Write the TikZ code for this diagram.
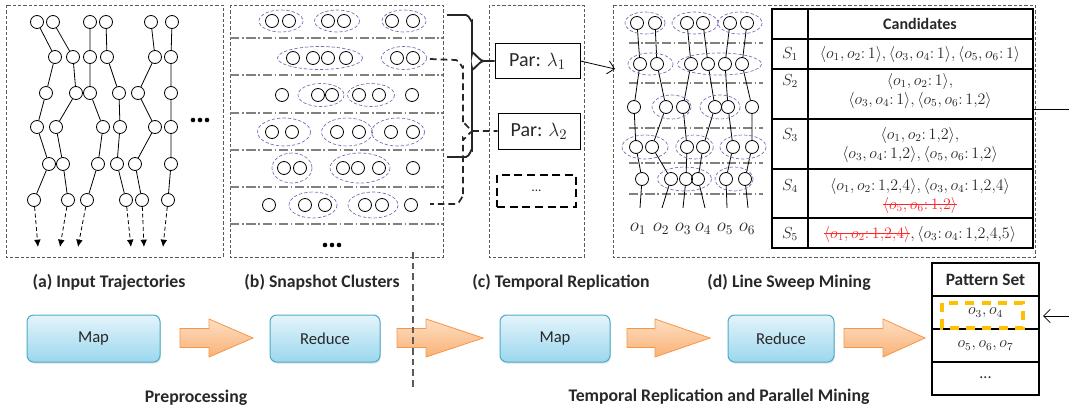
\documentclass[tikz,border=0pt]{standalone}
\usepackage{fontspec}
\setmainfont{Carlito}
\usetikzlibrary{arrows.meta,shadows}

\definecolor{clustc}{RGB}{128,100,178}
\definecolor{panelc}{RGB}{90,90,90}
\definecolor{txtc}{RGB}{40,40,40}
\definecolor{mapdraw}{RGB}{75,172,198}
\definecolor{maptop}{RGB}{228,244,251}
\definecolor{mapbot}{RGB}{155,215,238}
\definecolor{arrdraw}{RGB}{247,150,70}
\definecolor{arrtop}{RGB}{253,222,195}
\definecolor{arrbot}{RGB}{249,178,118}
\definecolor{goldc}{RGB}{255,192,0}
\definecolor{strikec}{RGB}{255,40,40}

\newsavebox{\strkbox}
\newcommand{\mystrike}[1]{\sbox{\strkbox}{#1}\rlap{\raisebox{0.28em}{\rule{\wd\strkbox}{0.5pt}}}\usebox{\strkbox}}

\tikzset{every picture/.style={line width=0.75pt}}
\tikzset{
  obj/.style={circle, draw, inner sep=0pt, minimum size=9.75pt, line width=0.6pt},
  traj/.style={line width=0.6pt},
  futr/.style={line width=0.6pt, dash pattern=on 3pt off 2pt, -{Latex[length=5.5pt,width=5pt]}},
  clust/.style={draw=clustc, line width=0.5pt, dash pattern=on 2.5pt off 1.5pt},
  panel/.style={draw=panelc, line width=0.6pt, dash pattern=on 2.5pt off 1.5pt},
  sepline/.style={draw=gray, line width=0.8pt, dash pattern=on 7pt off 2pt on 1.2pt off 2pt},
  brace/.style={line width=1.4pt, draw=black!85},
  dbrace/.style={line width=1.3pt, draw=black!85, dash pattern=on 5pt off 3pt},
  parbox/.style={draw, line width=0.75pt, font=\fontsize{15}{17}\selectfont, text=txtc},
  lbl/.style={font=\fontsize{13.3}{15}\selectfont\bfseries, text=txtc},
  cand/.style={font=\fontsize{12}{14.2}\selectfont, text=txtc, align=center, inner sep=1pt},
  olbl/.style={font=\fontsize{14}{16}\selectfont, text=txtc},
  tbl/.style={line width=1.1pt},
  mrbox/.style={draw=mapdraw, rounded corners=5pt, top color=maptop, bottom color=mapbot,
    minimum height=35.25pt, font=\fontsize{12.5}{14}\selectfont, text=txtc,
    drop shadow={shadow xshift=0.6pt, shadow yshift=-1.2pt, opacity=0.25}},
  pics/blkarrow/.style n args={2}{code={
    \shade[draw=arrdraw, line width=0.6pt, top color=arrtop, bottom color=arrbot]
      (0,-9.5) -- (#1-#2,-9.5) -- (#1-#2,-19) -- (#1,0) -- (#1-#2,19) -- (#1-#2,9.5) -- (0,9.5) -- cycle;
  }}
}

\begin{document}
\begin{tikzpicture}[x=0.75pt,y=0.75pt,yscale=-1,xscale=1]
\useasboundingbox (0,0) rectangle (1069,414);

%Panels
\draw[panel] (6,5) rectangle (223,257);
\draw[panel] (230,5) rectangle (443,257);
\draw[panel] (489,5) rectangle (584,257);
\draw[panel] (613,5) rectangle (1035,257);

%(a) input trajectories
\foreach \t/\xa/\xb/\xc/\xd/\xe/\xf/\xg in {1/37/55/46/37/49/34/38, 2/53/73/76/56/63/68/60, 3/90/90/90/103/98/87/78, 4/106/107/119/120/117/126/131, 5/151/155/138/155/135/142/144, 6/172/171/171/171/171/168/163}{
  \node[obj] (a\t-1) at (\xa,22) {};
  \node[obj] (a\t-2) at (\xb,57) {};
  \node[obj] (a\t-3) at (\xc,93) {};
  \node[obj] (a\t-4) at (\xd,127) {};
  \node[obj] (a\t-5) at (\xe,164) {};
  \node[obj] (a\t-6) at (\xf,200) {};
  \coordinate (a\t-7) at (\xg,247);
  \draw[traj] (a\t-1) -- (a\t-2) -- (a\t-3) -- (a\t-4) -- (a\t-5) -- (a\t-6);
  \draw[futr] (a\t-6) -- (a\t-7);
}
\foreach \d in {-7,0,7} \fill (200+\d,120) circle [radius=2.3];

%(b) snapshot clusters
\foreach \yy in {38,75,113,150,187,224} \draw[sepline] (230,\yy) -- (443,\yy);
\foreach \r/\yy/\xs in {1/21/{272,289,328,344,392,413}, 2/58/{293,313,328,346,397,413}, 3/95/{282,318,332,359,379,412}, 4/132/{272,292,337,359,391,413}, 5/168/{284,300,343,358,379,413}, 6/205/{269,305,325,365,382,411}}{
  \foreach \x [count=\i] in \xs {\node[obj] (b\r-\i) at (\x,\yy) {};}
}
\foreach \cx/\cy/\rx/\ry in {281/21/22/11, 337/21/22.5/11, 404/21/22/11, 320/58/42.5/11.5, 404/58/22.5/11.5, 321/95/23/11.5, 371/95/23.5/11.5, 284/132/26.5/14, 347/132/25.5/14, 398/132/26.5/14, 292/168/20/15, 360/168/30/15, 313/205/24/13, 373/205/25/13}
  \draw[clust] (\cx,\cy) ellipse [x radius=\rx, y radius=\ry];
\foreach \d in {-7,0,7} \fill (332+\d,245) circle [radius=2.3];

%(c) temporal replication
\node[parbox, minimum width=63.75pt, minimum height=26.25pt] (par1) at (537.5,61) {Par: $\lambda_1$};
\node[parbox, minimum width=61.5pt, minimum height=27pt] (par2) at (539,131) {Par: $\lambda_2$};
\node[draw, line width=1pt, dash pattern=on 6pt off 3.5pt, minimum width=59.25pt, minimum height=24pt, text=txtc] (par3) at (536.5,191) {...};

%Braces
\coordinate (br1-a) at (447,15);
\coordinate (br1-b) at (447,157);
\draw[brace] (br1-a) -- (466,15) to[out=0,in=90] (472,21) -- (472,54) to[out=-90,in=180] (484,61) -- (par1.west);
\draw[brace] (484,61) to[out=180,in=90] (472,68) -- (472,150) to[out=-90,in=0] (466,157) -- (br1-b);
\coordinate (br2-a) at (430,59);
\coordinate (br2-b) at (430,204);
\draw[dbrace] (br2-a) -- (456,60) to[out=0,in=90] (463,67) -- (463,124) to[out=-90,in=180] (474,131) -- (par2.west);
\draw[dbrace] (474,131) to[out=180,in=90] (463,138) -- (463,197) to[out=-90,in=0] (456,204) -- (br2-b);

%(d) line sweep mining
\coordinate (d-in) at (615,69);
\draw[line width=0.6pt, -{Straight Barb[length=5pt]}] (par1.east) -- (d-in);
\foreach \yy in {43,83,128,163,194} \draw[sepline] (629,\yy) -- (763,\yy);
\foreach \t/\xa/\xb/\xc/\xd/\xe/\xf/\xl in {1/637/640/634/636/642/640/638, 2/655/657/666/652/671/662/661, 3/687/691/683/687/686/683/683, 4/703/708/715/703/698/705/703, 5/730/725/728/733/726/727/725, 6/747/742/752/752/745/748/747}{
  \node[obj] (d\t-1) at (\xa,23) {};
  \node[obj] (d\t-2) at (\xb,64) {};
  \node[obj] (d\t-3) at (\xc,107) {};
  \node[obj] (d\t-4) at (\xd,147) {};
  \node[obj] (d\t-5) at (\xe,179) {};
  \coordinate (d\t-6) at (\xf,208);
  \draw[traj] (d\t-1) -- (d\t-2) -- (d\t-3) -- (d\t-4) -- (d\t-5) -- (d\t-6);
  \node[olbl] (o\t) at (\xl,229) {$o_{\t}$};
}
\foreach \cx/\cy/\rx/\ry in {645/23/20/11, 695/23/23/11, 740/23/22/11, 650.5/64/22.5/11, 719.5/64/42/11, 671.5/107/19.5/12, 720/107/20/12, 645/147/23/12, 694.5/147/18.7/12, 743/147/23/12, 684.5/179/27/12, 734/179/19/12}
  \draw[clust] (\cx,\cy) ellipse [x radius=\rx, y radius=\ry];

%Candidates table
\draw[tbl] (772,9) rectangle (1033,248);
\foreach \yy in {39,69,119,169,218} \draw[tbl] (772,\yy) -- (1033,\yy);
\draw[tbl] (808,9) -- (808,248);
% Text Node
\node[font=\fontsize{12}{14}\selectfont\bfseries, text=txtc] (cnd) at (920,24) {Candidates};
\foreach \i/\yy in {1/54,2/81,3/135,4/186,5/234} \node[cand] (s\i) at (790,\yy) {$S_{\i}$};
\node[cand] (c1) at (920,54) {$\langle o_1,o_2{:}\,1\rangle,\langle o_3,o_4{:}\,1\rangle,\langle o_5,o_6{:}\,1\rangle$};
\node[cand] (c2) at (920,91) {$\langle o_1,o_2{:}\,1\rangle,$\\$\langle o_3,o_4{:}\,1\rangle,\langle o_5,o_6{:}\,1{,}2\rangle$};
\node[cand] (c3) at (920,145) {$\langle o_1,o_2{:}\,1{,}2\rangle,$\\$\langle o_3,o_4{:}\,1{,}2\rangle,\langle o_5,o_6{:}\,1{,}2\rangle$};
\node[cand] (c4) at (920,196) {$\langle o_1,o_2{:}\,1{,}2{,}4\rangle,\langle o_3,o_4{:}\,1{,}2{,}4\rangle$\\\textcolor{strikec}{\mystrike{$\langle o_5,o_6{:}\,1{,}2\rangle$}}};
\node[cand] (c5) at (920,234) {\textcolor{strikec}{\mystrike{$\langle o_1,o_2{:}\,1{,}2{,}4\rangle$}}$,\langle o_3{:}\,o_4{:}\,1{,}2{,}4{,}5\rangle$};

\coordinate (tbl-r) at (1033,109);
\coordinate (tbl-out) at (1069,109);
\draw[line width=0.6pt] (tbl-r) -- (tbl-out);

%Labels
\node[lbl] (la) at (109,282) {(a) Input Trajectories};
\node[lbl] (lb) at (322,282) {(b) Snapshot Clusters};
\node[lbl] (lc) at (561,282) {(c) Temporal Replication};
\node[lbl] (ld) at (789,282) {(d) Line Sweep Mining};

%MapReduce flow
\node[mrbox, minimum width=99.75pt] (map1) at (93.5,338.5) {Map};
\node[mrbox, minimum width=82.5pt] (red1) at (325,338.5) {Reduce};
\node[mrbox, minimum width=82.5pt] (map2) at (555,338.5) {Map};
\node[mrbox, minimum width=79.5pt] (red2) at (781,338.5) {Reduce};
\pic at (180,338) {blkarrow={73}{44}};
\pic at (397,338) {blkarrow={86}{57}};
\pic at (627,338) {blkarrow={83}{55}};
\pic at (844,338) {blkarrow={81}{42}};

\draw[draw=panelc, line width=0.8pt, dash pattern=on 5pt off 3pt] (413,252) -- (413,388);
\node[lbl] (pre) at (196,398) {Preprocessing};
\node[lbl] (trpm) at (719,397) {Temporal Replication and Parallel Mining};

%Pattern set
\draw[tbl] (932,263) rectangle (1039,395);
\foreach \yy in {296,329,362} \draw[tbl] (932,\yy) -- (1039,\yy);
\node[font=\fontsize{13}{15}\selectfont\bfseries, text=txtc] (pst) at (985.5,279.5) {Pattern Set};
\node[cand] (p1) at (985.5,313) {$o_3,o_4$};
\node[cand] (p2) at (985.5,346) {$o_5,o_6,o_7$};
\node[cand] (p3) at (985.5,378) {...};
\draw[draw=goldc, line width=2.3pt, dash pattern=on 6.75pt off 5.5pt] (942,303) rectangle (1023,328);
\coordinate (pat-in) at (1069,316);
\coordinate (pat-r) at (1043,316);
\draw[line width=0.6pt, -{Straight Barb[length=5pt]}] (pat-in) -- (pat-r);

\end{tikzpicture}
\end{document}
